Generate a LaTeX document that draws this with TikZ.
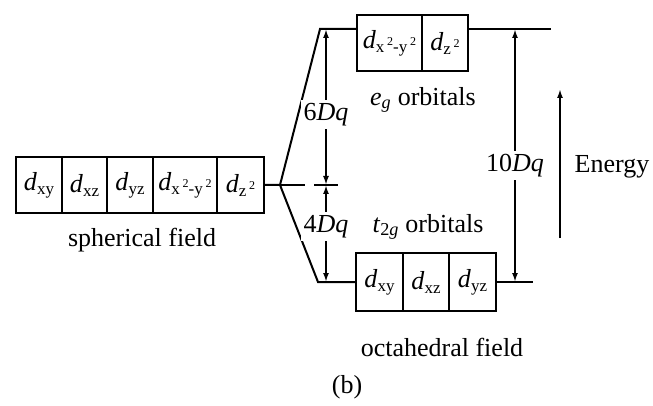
\documentclass[tikz,border=0pt]{standalone}
\usepackage{fontspec}
\setmainfont{Liberation Serif}
\usetikzlibrary{arrows.meta,positioning}
\newcommand{\dorb}[1]{\textit{d}\raisebox{-4pt}{\fontsize{17}{17}\selectfont #1}}
\newcommand{\sqr}{\,\raisebox{7pt}{\fontsize{12}{12}\selectfont 2}}
\newcommand{\Dq}{\textit{Dq}}

\begin{document}
\begin{tikzpicture}[x=1pt,y=-1pt,>={Latex[length=9pt,width=6pt]},line width=2pt,
  font=\fontsize{26}{30}\selectfont,
  orb/.style={draw,minimum height=56pt,inner sep=0pt,outer sep=0pt},
  gap/.style={fill=white,inner sep=3pt}]
  \useasboundingbox (0,0) rectangle (653,406);
  % spherical field
  \node[orb,minimum width=46pt] (s1) at (39,185) {\dorb{xy}};
  \node[orb,minimum width=45pt,right=0pt of s1] (s2) {\dorb{xz}};
  \node[orb,minimum width=46pt,right=0pt of s2] (s3) {\dorb{yz}};
  \node[orb,minimum width=64pt,right=0pt of s3] (s4) {\dorb{x\sqr-y\sqr}};
  \node[orb,minimum width=47pt,right=0pt of s4] (s5) {\dorb{z\sqr}};
  \node (sph) at (142,240) {spherical field};
  % e_g level
  \node[orb,minimum width=65pt] (e1) at (389.5,43) {\dorb{x\sqr-y\sqr}};
  \node[orb,minimum width=46pt,right=0pt of e1] (e2) {\dorb{z\sqr}};
  \node (eg) at (423,100) {\textit{e}\textsubscript{\textit{g}} orbitals};
  % t_2g level
  \node[orb,minimum width=47pt,minimum height=58pt] (t1) at (379.5,282) {\dorb{xy}};
  \node[orb,minimum width=46pt,minimum height=58pt,right=0pt of t1] (t2) {\dorb{xz}};
  \node[orb,minimum width=47pt,minimum height=58pt,right=0pt of t2] (t3) {\dorb{yz}};
  \node (tg) at (428,227) {\textit{t}\textsubscript{2\textit{g}} orbitals};
  \node (oct) at (442,347) {octahedral field};
  \node (lbl) at (347,387) {(b)};
  % levels
  \coordinate (br) at (280,185);
  \coordinate (egc) at (320,29);
  \coordinate (egr) at (551,29);
  \coordinate (tgc) at (318,282);
  \coordinate (tgr) at (533,282);
  \coordinate (bary) at (326,185);
  \draw (s5.east) -- (br) -- (egc) -- (egc -| e1.west);
  \draw (egc -| e2.east) -- (egr);
  \draw (br) -- (tgc) -- (tgc -| t1.west);
  \draw (tgc -| t3.east) -- (tgr);
  \draw (br) -- ++(25,0);
  \draw (bary) ++(-12,0) -- ++(24,0);
  % splittings
  \draw[<->] (bary) -- node[gap,pos=0.45] {6\Dq} (bary |- egc);
  \draw[<->] (bary) -- node[gap,pos=0.43] {4\Dq} (bary |- tgc);
  \coordinate (tentop) at (515,29);
  \coordinate (tenbot) at (515,282);
  \draw[<->] (tentop) -- node[gap,pos=0.54] {10\Dq} (tenbot);
  \coordinate (elo) at (560,238);
  \coordinate (ehi) at (560,89);
  \draw[->] (elo) -- (ehi);
  \node (en) at (612,167) {Energy};
\end{tikzpicture}
\end{document}
